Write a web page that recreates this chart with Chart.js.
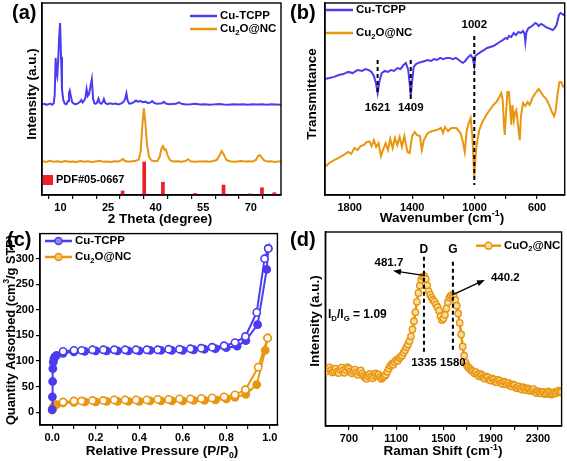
<!DOCTYPE html>
<html>
<head>
<meta charset="utf-8">
<script src="https://cdn.jsdelivr.net/npm/chart.js@4.4.1/dist/chart.umd.min.js"></script>
<style>
  html, body { margin: 0; padding: 0; background: #fff; }
  #wrap { position: relative; width: 567px; height: 461px; overflow: hidden; background: #fff; }
  canvas { position: absolute; }
</style>
</head>
<body>
<div id="wrap">
  <canvas id="xrd" width="283" height="230" style="left:0;top:0"></canvas>
  <canvas id="ftir" width="284" height="230" style="left:283px;top:0"></canvas>
  <canvas id="bet" width="283" height="236" style="left:0;top:225px"></canvas>
  <canvas id="raman" width="284" height="236" style="left:283px;top:225px"></canvas>
</div>
<script>
// Painel de 4 gráficos: XRD, FTIR, isoterma N2 e Raman.

const BLUE = '#4b3cf2';
const ORANGE = '#e9960f';
const RED = '#f01e28';
const INK = '#000';
const FONT = "'Liberation Sans', Arial, sans-serif";

// (a) XRD
const xrdTcppX = [4.3, 5, 5.6, 6.2, 6.8, 7.4, 7.9, 8.2, 8.5, 8.75, 9.0, 9.3, 9.6, 9.9, 10.2, 10.5, 10.9, 11.4, 11.9, 12.4,
  12.7, 12.95, 13.3, 13.7, 14.3, 15, 15.7, 16.2, 16.6, 17.0, 17.5, 17.9, 18.25, 18.6, 19.0, 19.4, 19.9, 20.3, 20.7, 21.1,
  21.5, 22.0, 22.4, 22.9, 23.3, 23.7, 24.1, 24.8, 25.6, 26.5, 27.4, 28.3, 29.2, 29.9, 30.4, 30.8, 31.2, 31.7, 32.5, 33.3,
  33.8, 34.4, 35.2, 36.0, 36.8, 37.6, 38.4, 38.9, 39.5, 40.3, 41.2, 42.0, 42.6, 43.2, 44.2, 45.3, 46.4, 47.3, 48.2, 49.5,
  51, 52.5, 54, 55.5, 57, 58.5, 60, 61.5, 63, 64.5, 66, 67.5, 69, 70.5, 72, 73.5, 75, 76.5, 78, 79.5];
const xrdTcppY = [47.2, 47.5, 46.9, 47.3, 47.6, 47.0, 47.8, 52, 71.4, 64, 62, 70, 82, 89.6, 72, 55, 49.5, 47.6, 47.3, 49,
  53, 54.3, 51.5, 48.3, 47.5, 47.3, 47.9, 48.6, 49.5, 48.2, 49.2, 51, 55.2, 51.5, 52.5, 56, 60.4, 50, 47.8, 47.5,
  48, 50.2, 48, 47.5, 48.3, 50, 48, 47.3, 47.8, 47.4, 47.6, 47.2, 47.7, 48.5, 50, 53, 49, 47.6, 47.8, 48.5,
  49.2, 48.6, 48.9, 48.3, 48.6, 47.8, 48.2, 48.9, 48, 47.5, 47.6, 47.8, 48.5, 47.6, 47.3, 47.4, 47.5, 48.2, 47.5, 47.2,
  47.3, 47.5, 47.1, 47.3, 47.0, 47.2, 47.4, 47.1, 47.0, 47.3, 47.1, 47.2, 47.0, 47.3, 47.1, 47.2, 47.0, 47.2, 47.1, 47.0];
const xrdCuoX = [4.3, 5.5, 6.7, 7.9, 9.1, 10.3, 11.5, 12.7, 13.9, 15.1, 16.3, 17.5, 18.7, 19.9, 21.1, 22.3, 23.5, 24.7, 25.9, 27.1,
  28.3, 29.2, 29.7, 30.3, 31.5, 32.7, 33.8, 34.7, 35.3, 35.8, 36.3, 36.8, 37.3, 37.9, 38.7, 39.7, 40.6, 41.3, 41.8, 42.3,
  42.8, 43.2, 43.8, 44.6, 45.8, 47.0, 48.2, 49.4, 50.2, 51.0, 52.2, 53.4, 54.6, 55.8, 57.0, 58.2, 59.3, 60.1, 60.8, 61.5,
  62.3, 63.3, 64.5, 65.7, 66.9, 68.1, 69.3, 70.5, 71.6, 72.3, 72.8, 73.4, 74.2, 75.2, 76.4, 77.6, 78.6, 79.5];
const xrdCuoY = [17.6, 17.2, 17.8, 17.3, 17.6, 17.2, 17.7, 17.3, 17.5, 17.2, 17.7, 17.3, 17.6, 17.2, 17.5, 17.8, 17.3, 17.5, 17.2, 17.6,
  17.4, 18.2, 18.8, 17.7, 17.3, 17.6, 17.8, 18.5, 23, 36, 45.2, 37, 26, 20, 18, 17.6, 17.8, 20, 24, 25.5,
  23.5, 23.8, 20.5, 18, 17.5, 17.6, 17.3, 17.7, 18.6, 17.6, 17.3, 17.5, 17.4, 17.6, 17.3, 17.7, 18.3, 20.5, 22.9, 21,
  18.2, 17.6, 17.3, 17.5, 17.7, 17.4, 17.6, 17.4, 18.3, 20.3, 20.8, 19.6, 18, 17.4, 17.6, 17.2, 17.5, 17.4];
const pdfX = [29.6, 36.4, 42.3, 52.4, 61.4, 69.6, 73.5, 77.4];
const pdfY = [2.1, 17.2, 6.6, 0.8, 5.2, 0.6, 3.8, 1.2];
const xrdTicks = [10, 25, 40, 55, 70];
const xrdMinor = [17.5, 32.5, 47.5, 62.5, 77.5];

// (b) FTIR
const ftirTcppX = [1958, 1930, 1900, 1870, 1840, 1810, 1780, 1750, 1720, 1700, 1680, 1660, 1645, 1632, 1621, 1610, 1595, 1575, 1555, 1535,
  1515, 1495, 1475, 1455, 1440, 1425, 1415, 1409, 1402, 1390, 1375, 1360, 1340, 1320, 1300, 1280, 1260, 1240, 1220, 1200,
  1180, 1160, 1140, 1120, 1100, 1085, 1074, 1060, 1040, 1025, 1012, 1002, 995, 980, 960, 940, 920, 900, 880, 860,
  840, 820, 800, 790, 780, 765, 750, 735, 720, 705, 690, 680, 675, 668, 655, 640, 625, 610, 600, 590,
  575, 560, 545, 530, 515, 500, 490, 475, 460, 450, 440, 430, 423];
const ftirTcppY = [60.4, 60.9, 61.5, 62.5, 63, 64.1, 63.5, 65.1, 64.6, 65.6, 65.1, 64.1, 62, 58.3, 53.1, 58.9, 63.5, 64.6, 64.1, 65.1,
  64.6, 66.1, 65.6, 67.7, 68.8, 65.1, 57.3, 51.6, 57.8, 66.7, 68.2, 68.8, 69.3, 69.8, 70.3, 69.8, 70.8, 70.3, 71.4, 70.8,
  71.4, 71.4, 70.8, 71.4, 70.3, 69.3, 68.8, 69.8, 71.9, 72.9, 71.4, 67.2, 72.4, 73.4, 74.5, 75.5, 76.6, 77.1, 77.6, 78.6,
  79.7, 80.7, 81.8, 81.3, 82.8, 82.3, 84.4, 83.3, 84.9, 84.4, 85.4, 83.9, 79.7, 84.9, 87, 87.5, 88.5, 89.6, 89.1, 88,
  89.1, 88.5, 87.5, 87, 86.5, 85.9, 86.5, 88.5, 93.8, 94.8, 94.3, 93.8, 94.3];
const ftirCuoX = [1958, 1930, 1900, 1870, 1840, 1810, 1790, 1770, 1750, 1730, 1710, 1690, 1672, 1660, 1645, 1630, 1615, 1600, 1587, 1570,
  1555, 1540, 1525, 1510, 1495, 1480, 1465, 1450, 1430, 1416, 1400, 1384, 1370, 1350, 1338, 1325, 1300, 1270, 1240, 1215,
  1202, 1190, 1170, 1150, 1117, 1090, 1075, 1063, 1050, 1035, 1025, 1015, 1002, 995, 989, 970, 950, 925, 903, 880,
  860, 845, 829, 820, 812, 807, 800, 790, 780, 772, 765, 758, 748, 740, 733, 722, 711, 703, 690, 675,
  660, 647, 630, 610, 590, 575, 560, 541, 520, 505, 490, 480, 470, 456, 445, 435, 423];
const ftirCuoY = [14.6, 16.7, 18.2, 19.3, 20.8, 22.4, 21.4, 24.5, 23.4, 25.5, 26, 27.6, 27.8, 25.5, 28.6, 25, 27, 20.3, 23.4, 27,
  23.4, 29.2, 24.5, 29.7, 26, 30.2, 25, 30.7, 22.4, 21.9, 30.7, 32.8, 31.3, 30.7, 23.4, 28.6, 32.3, 33.3, 33.9, 34.9,
  32.3, 35.4, 33.3, 34.9, 34.9, 32.3, 27.6, 22.4, 33.9, 38, 40.1, 31.3, 9.4, 18.2, 25, 33.9, 38, 41.7, 44.3, 46.9,
  48.4, 50.5, 53.1, 49.5, 36.5, 31.3, 41.1, 53.6, 53.6, 44.3, 36.5, 46.9, 39, 43.2, 44.3, 36.5, 28.6, 41.1, 47.9, 46.4,
  48.4, 46.9, 50.5, 53.1, 55.2, 53.6, 51.6, 50, 46.4, 43.2, 41.1, 44.3, 52.1, 58.9, 58.9, 56.8, 55.7];
const ftirTicks = [1800, 1400, 1000, 600];
const ftirMinor = [1600, 1200, 800];

// (c) N2 isotherm
const tcppAdsP = [0.0, 0.001, 0.002, 0.003, 0.005, 0.008, 0.012, 0.02, 0.05, 0.1, 0.15, 0.2, 0.25, 0.3, 0.35, 0.4, 0.45, 0.5,
  0.55, 0.6, 0.65, 0.7, 0.75, 0.8, 0.85, 0.89, 0.944, 0.986, 0.993];
const tcppAdsQ = [5, 30, 60, 85, 98, 104, 108, 111, 115, 118, 119, 120, 120, 120, 120, 120, 121, 121,
  121, 121, 122, 123, 124, 126, 129, 140, 171, 279, 320];
const tcppDesP = [0.993, 0.976, 0.94, 0.888, 0.84, 0.79, 0.735, 0.685, 0.635, 0.585, 0.535, 0.485, 0.435, 0.385, 0.335,
  0.285, 0.235, 0.185, 0.135, 0.1, 0.05];
const tcppDesQ = [320, 300, 195, 148, 136, 130, 127, 125, 124, 123, 123, 122, 122, 122, 122, 122, 122, 122, 121, 121, 119];
const cuoAdsP = [0.0, 0.002, 0.005, 0.01, 0.02, 0.05, 0.1, 0.15, 0.2, 0.25, 0.3, 0.35, 0.4, 0.45, 0.5, 0.55, 0.6, 0.65,
  0.7, 0.75, 0.8, 0.84, 0.89, 0.94, 0.979, 0.99];
const cuoAdsQ = [4, 7, 10, 13, 15, 18, 19, 20, 20, 21, 21, 21, 21, 22, 22, 22, 22, 23, 23, 24, 26, 29, 35, 54, 121, 145];
const cuoDesP = [0.99, 0.947, 0.888, 0.84, 0.79, 0.735, 0.685, 0.635, 0.585, 0.535, 0.485, 0.435, 0.385, 0.335, 0.285,
  0.235, 0.185, 0.135, 0.1, 0.05];
const cuoDesQ = [145, 88, 44, 34, 30, 28, 27, 26, 26, 25, 25, 24, 24, 24, 24, 23, 23, 22, 22, 20];
const betTicks = [0, 0.2, 0.4, 0.6, 0.8, 1.0];
const betMinor = [0.1, 0.3, 0.5, 0.7, 0.9];
const betYTicks = [0, 50, 100, 150, 200, 250, 300];

// (d) Raman
const ramanX = [500, 512.5, 525, 537.5, 550, 562.5, 575, 587.5, 600, 612.5, 625, 637.5, 650, 662.5, 675, 687.5,
  700, 712.5, 725, 737.5, 750, 762.5, 775, 787.5, 800, 812.5, 825, 837.5, 850, 862.5, 875, 887.5,
  900, 912.5, 925, 937.5, 950, 962.5, 975, 987.5, 1000, 1012.5, 1025, 1037.5, 1050, 1062.5, 1075, 1087.5,
  1100, 1112.5, 1125, 1137.5, 1150, 1162.5, 1175, 1187.5, 1200, 1212.5, 1225, 1237.5, 1250, 1262.5, 1275, 1287.5,
  1300, 1312.5, 1325, 1337.5, 1350, 1362.5, 1375, 1387.5, 1400, 1412.5, 1425, 1437.5, 1450, 1462.5, 1475, 1487.5,
  1500, 1512.5, 1525, 1537.5, 1550, 1562.5, 1575, 1587.5, 1600, 1612.5, 1625, 1637.5, 1650, 1662.5, 1675, 1687.5,
  1700, 1712.5, 1725, 1737.5, 1750, 1762.5, 1775, 1787.5, 1800, 1812.5, 1825, 1837.5, 1850, 1862.5, 1875, 1887.5,
  1900, 1912.5, 1925, 1937.5, 1950, 1962.5, 1975, 1987.5, 2000, 2012.5, 2025, 2037.5, 2050, 2062.5, 2075, 2087.5,
  2100, 2112.5, 2125, 2137.5, 2150, 2162.5, 2175, 2187.5, 2200, 2212.5, 2225, 2237.5, 2250, 2262.5, 2275, 2287.5,
  2300, 2312.5, 2325, 2337.5, 2350, 2362.5, 2375, 2387.5, 2400, 2412.5, 2425, 2437.5, 2450, 2462.5, 2475, 2487.5, 2500];
const ramanY = [29.0, 28.2, 29.5, 30.2, 28.8, 27.6, 28.4, 29.6, 28.0, 27.3, 29.0, 30.1, 28.6, 27.4, 28.9, 30.3,
  29.5, 28.1, 27.2, 28.4, 29.1, 27.6, 26.4, 27.8, 28.6, 27.0, 25.8, 24.9, 24.4, 25.6, 26.8, 25.4,
  24.6, 25.9, 27.1, 26.0, 26.6, 25.2, 24.3, 25.1, 25.6, 26.4, 27.9, 29.6, 31.0, 32.0, 31.6, 33.0,
  34.0, 33.6, 35.0, 35.6, 36.4, 37.8, 39.0, 40.6, 42.0, 43.8, 46.2, 49.8, 54.0, 58.6, 64.0, 68.6,
  72.4, 75.4, 77.0, 77.3, 75.8, 72.4, 69.4, 67.6, 66.2, 65.0, 64.0, 62.6, 61.2, 59.4, 56.6, 54.6,
  55.4, 57.4, 60.6, 63.8, 66.2, 67.2, 67.6, 67.0, 65.0, 62.0, 58.0, 53.2, 47.2, 41.0, 36.2, 32.6,
  31.0, 30.2, 29.4, 28.6, 28.2, 27.2, 27.8, 26.6, 25.6, 26.8, 26.2, 25.0, 24.4, 25.6, 25.0, 23.8,
  23.4, 24.6, 24.0, 22.8, 22.6, 23.8, 23.4, 22.2, 21.6, 22.8, 22.4, 21.4, 22.2, 21.0, 20.4, 21.4,
  21.0, 19.8, 19.4, 20.4, 19.4, 18.8, 20.0, 19.2, 18.4, 19.4, 19.0, 18.0, 18.6, 19.0, 17.6, 17.0,
  18.0, 17.4, 16.8, 17.6, 17.4, 16.4, 16.9, 17.8, 17.2, 16.2, 16.6, 17.4, 16.8, 17.6, 18.2, 17.4, 17.7];
const ramanTicks = [700, 1100, 1500, 1900, 2300];
const ramanMinor = [900, 1300, 1700, 2100];

const pts = (xs, ys) => xs.map((x, i) => ({ x, y: ys[i] }));

function richWidth(ctx, parts, size) {
  let w = 0;
  parts.forEach((p) => {
    const [t, mode] = typeof p === 'string' ? [p, ''] : p;
    ctx.font = `bold ${mode ? size * 0.65 : size}px ${FONT}`;
    w += ctx.measureText(t).width;
  });
  return w;
}

function drawRich(ctx, parts, x, y, size, align = 'left', angle = 0) {
  ctx.save();
  ctx.translate(x, y);
  ctx.rotate(angle);
  ctx.fillStyle = INK;
  ctx.textBaseline = 'middle';
  ctx.textAlign = 'left';
  const w = richWidth(ctx, parts, size);
  let cx = align === 'center' ? -w / 2 : align === 'right' ? -w : 0;
  parts.forEach((p) => {
    const [t, mode] = typeof p === 'string' ? [p, ''] : p;
    ctx.font = `bold ${mode ? size * 0.65 : size}px ${FONT}`;
    const dy = mode === 'sub' ? size * 0.3 : mode === 'sup' ? -size * 0.32 : 0;
    ctx.fillText(t, cx, dy);
    cx += ctx.measureText(t).width;
  });
  ctx.restore();
}

function dashed(ctx, x, y1, y2) {
  ctx.save();
  ctx.strokeStyle = INK;
  ctx.lineWidth = 2;
  ctx.setLineDash([4, 3]);
  ctx.beginPath();
  ctx.moveTo(x, y1);
  ctx.lineTo(x, y2);
  ctx.stroke();
  ctx.restore();
}

function arrow(ctx, x1, y1, x2, y2) {
  const ang = Math.atan2(y2 - y1, x2 - x1);
  ctx.save();
  ctx.strokeStyle = INK;
  ctx.fillStyle = INK;
  ctx.lineWidth = 1.3;
  ctx.beginPath();
  ctx.moveTo(x1, y1);
  ctx.lineTo(x2 - 6 * Math.cos(ang), y2 - 6 * Math.sin(ang));
  ctx.stroke();
  ctx.beginPath();
  ctx.moveTo(x2, y2);
  ctx.lineTo(x2 - 8 * Math.cos(ang) + 3 * Math.sin(ang), y2 - 8 * Math.sin(ang) - 3 * Math.cos(ang));
  ctx.lineTo(x2 - 8 * Math.cos(ang) - 3 * Math.sin(ang), y2 - 8 * Math.sin(ang) + 3 * Math.cos(ang));
  ctx.closePath();
  ctx.fill();
  ctx.restore();
}

function legendLine(ctx, x1, x2, y, color, marker, fill) {
  ctx.save();
  ctx.strokeStyle = color;
  ctx.lineWidth = 2.5;
  ctx.beginPath();
  ctx.moveTo(x1, y);
  ctx.lineTo(x2, y);
  ctx.stroke();
  if (marker) {
    ctx.lineWidth = 1.5;
    ctx.fillStyle = fill;
    ctx.beginPath();
    ctx.arc((x1 + x2) / 2, y, 3.5, 0, Math.PI * 2);
    ctx.fill();
    ctx.stroke();
  }
  ctx.restore();
}

function decor(draw) {
  return {
    id: 'decor',
    afterDraw(chart) {
      const { ctx, chartArea: a, scales } = chart;
      ctx.save();
      ctx.strokeStyle = INK;
      ctx.lineWidth = 1.4;
      ctx.strokeRect(a.left, a.top, a.right - a.left, a.bottom - a.top);
      draw(ctx, scales.x, scales.y);
      ctx.restore();
    },
  };
}

const tickFont = { family: FONT, size: 11, weight: 'bold' };

function xScale(min, max, major, minor, height, fmt, reverse = false) {
  return {
    type: 'linear', min, max, reverse, offset: false,
    afterBuildTicks: (s) => {
      s.ticks = major.concat(minor).filter((v) => v >= min && v <= max).sort((p, q) => p - q).map((v) => ({ value: v }));
    },
    afterFit: (s) => { s.height = height; },
    grid: { drawOnChartArea: false, drawTicks: true, tickLength: 4, color: INK, lineWidth: 1.2 },
    border: { color: INK, width: 1.4 },
    ticks: { color: INK, font: tickFont, padding: 2, maxRotation: 0, autoSkip: false,
      callback: (v) => (major.includes(v) ? fmt(v) : '') },
  };
}

function yHidden(min, max, width) {
  return {
    type: 'linear', min, max,
    afterFit: (s) => { s.width = width; },
    ticks: { display: false },
    grid: { display: false },
    border: { color: INK, width: 1.4 },
  };
}

function baseOptions(padding, x, y) {
  return {
    responsive: false,
    animation: false,
    events: [],
    layout: { padding },
    plugins: { legend: { display: false }, tooltip: { enabled: false } },
    scales: { x, y },
  };
}

// (a)
new Chart(document.getElementById('xrd'), {
  type: 'line',
  data: {
    datasets: [
      { data: pts(xrdTcppX, xrdTcppY), borderColor: BLUE, borderWidth: 2, pointRadius: 0, tension: 0 },
      { data: pts(xrdCuoX, xrdCuoY), borderColor: ORANGE, borderWidth: 2, pointRadius: 0, tension: 0 },
      { type: 'bar', data: pts(pdfX, pdfY), backgroundColor: RED, barThickness: 3 },
    ],
  },
  options: baseOptions({ top: 3, right: 2, left: 0, bottom: 0 },
    xScale(4.2, 79.5, xrdTicks, xrdMinor, 35, (v) => String(v)), yHidden(0, 100, 42)),
  plugins: [decor((ctx) => {
    drawRich(ctx, ['(a)'], 12, 13, 20);
    drawRich(ctx, ['Intensity (a.u.)'], 32, 94, 13.5, 'center', -Math.PI / 2);
    drawRich(ctx, ['2 Theta (degree)'], 160, 219, 13.5, 'center');
    legendLine(ctx, 190, 217, 16, BLUE);
    legendLine(ctx, 190, 217, 29, ORANGE);
    drawRich(ctx, ['Cu-TCPP'], 220, 16, 11.5);
    drawRich(ctx, ['Cu', ['2', 'sub'], 'O@NC'], 220, 29, 11.5);
    ctx.fillStyle = RED;
    ctx.fillRect(43, 175, 10, 10);
    drawRich(ctx, ['PDF#05-0667'], 56, 180, 11);
  })],
});

// (b)
new Chart(document.getElementById('ftir'), {
  type: 'line',
  data: {
    datasets: [
      { data: pts(ftirTcppX, ftirTcppY), borderColor: BLUE, borderWidth: 2, pointRadius: 0, tension: 0 },
      { data: pts(ftirCuoX, ftirCuoY), borderColor: ORANGE, borderWidth: 2, pointRadius: 0, tension: 0 },
    ],
  },
  options: baseOptions({ top: 3, right: 2.3, left: 0, bottom: 0 },
    xScale(423, 1958, ftirTicks, ftirMinor, 35, (v) => String(v), true), yHidden(0, 100, 42)),
  plugins: [decor((ctx, sx, sy) => {
    drawRich(ctx, ['(b)'], 7, 13, 20);
    drawRich(ctx, ['Transmittance'], 29, 94, 13.5, 'center', -Math.PI / 2);
    drawRich(ctx, ['Wavenumber (cm', ['-1', 'sup'], ')'], 159, 218, 13.5, 'center');
    legendLine(ctx, 43, 70, 10, BLUE);
    legendLine(ctx, 43, 70, 33, ORANGE);
    drawRich(ctx, ['Cu-TCPP'], 73, 10, 11.5);
    drawRich(ctx, ['Cu', ['2', 'sub'], 'O@NC'], 73, 33, 11.5);
    dashed(ctx, sx.getPixelForValue(1621), sy.getPixelForValue(70.3), sy.getPixelForValue(53.6));
    dashed(ctx, sx.getPixelForValue(1409), sy.getPixelForValue(70.3), sy.getPixelForValue(49.5));
    dashed(ctx, sx.getPixelForValue(1002), sy.getPixelForValue(82.8), sy.getPixelForValue(5.2));
    drawRich(ctx, ['1621'], sx.getPixelForValue(1621), sy.getPixelForValue(45.3), 11.5, 'center');
    drawRich(ctx, ['1409'], sx.getPixelForValue(1409), sy.getPixelForValue(45.3), 11.5, 'center');
    drawRich(ctx, ['1002'], sx.getPixelForValue(1002), sy.getPixelForValue(88.5), 11.5, 'center');
  })],
});

// (c)
function isotherm(adsP, adsQ, desP, desQ, color) {
  return {
    data: pts(adsP, adsQ).concat(pts(desP, desQ)),
    borderColor: color,
    borderWidth: 2,
    tension: 0,
    pointRadius: 3.6,
    pointBorderWidth: 1.6,
    pointBorderColor: color,
    pointBackgroundColor: adsP.map(() => color).concat(desP.map(() => '#fff')),
  };
}

new Chart(document.getElementById('bet'), {
  type: 'line',
  data: {
    datasets: [
      isotherm(tcppAdsP, tcppAdsQ, tcppDesP, tcppDesQ, BLUE),
      isotherm(cuoAdsP, cuoAdsQ, cuoDesP, cuoDesQ, ORANGE),
    ],
  },
  options: baseOptions({ top: 7, right: 1.3, left: 0, bottom: 0 },
    xScale(-0.056, 1.035, betTicks, betMinor, 36, (v) => v.toFixed(1)),
    {
      type: 'linear', min: -25, max: 349,
      afterBuildTicks: (s) => { s.ticks = betYTicks.map((v) => ({ value: v })); },
      afterFit: (s) => { s.width = 40; },
      grid: { drawOnChartArea: false, drawTicks: true, tickLength: 4, color: INK, lineWidth: 1.2 },
      border: { color: INK, width: 1.4 },
      ticks: { color: INK, font: tickFont, padding: 2 },
    }),
  plugins: [decor((ctx) => {
    drawRich(ctx, ['(c)'], 7, 15, 20);
    drawRich(ctx, ['Quantity Adsorbed (cm', ['3', 'sup'], '/g STP)'], 11, 105, 12.8, 'center', -Math.PI / 2);
    drawRich(ctx, ['Relative Pressure (P/P', ['0', 'sub'], ')'], 162, 226.5, 13.5, 'center');
    legendLine(ctx, 45, 72, 16, BLUE, true, '#8f86f7');
    legendLine(ctx, 45, 72, 32, ORANGE, true, '#f3c56f');
    drawRich(ctx, ['Cu-TCPP'], 75, 16, 11.5);
    drawRich(ctx, ['Cu', ['2', 'sub'], 'O@NC'], 75, 32, 11.5);
  })],
});

// (d)
new Chart(document.getElementById('raman'), {
  type: 'line',
  data: {
    datasets: [{
      data: pts(ramanX, ramanY),
      borderColor: ORANGE,
      borderWidth: 2.5,
      tension: 0,
      pointRadius: 3.2,
      pointBorderWidth: 1.4,
      pointBorderColor: ORANGE,
      pointBackgroundColor: '#f8dca6',
    }],
  },
  options: baseOptions({ top: 7, right: 2.3, left: 0, bottom: 0 },
    xScale(500, 2500, ramanTicks, ramanMinor, 35, (v) => String(v)), yHidden(0, 100, 42.3)),
  plugins: [decor((ctx, sx, sy) => {
    drawRich(ctx, ['(d)'], 7, 15, 20);
    drawRich(ctx, ['Intensity (a.u.)'], 32.5, 96, 13.5, 'center', -Math.PI / 2);
    drawRich(ctx, ['Raman Shift (cm', ['-1', 'sup'], ')'], 160, 226.5, 13.5, 'center');
    legendLine(ctx, 193, 218, 20.7, ORANGE, true, '#f8dca6');
    drawRich(ctx, ['CuO', ['2', 'sub'], '@NC'], 221, 20.7, 11.5);
    const dx = sx.getPixelForValue(1335);
    const gx = sx.getPixelForValue(1580);
    dashed(ctx, dx, 31.7, 128.3);
    dashed(ctx, gx, 36.7, 125);
    drawRich(ctx, ['D'], dx, 24.5, 12, 'center');
    drawRich(ctx, ['G'], gx, 24.5, 12, 'center');
    drawRich(ctx, ['1335'], dx, 138.3, 11.5, 'center');
    drawRich(ctx, ['1580'], gx, 138.3, 11.5, 'center');
    arrow(ctx, dx + 1, sy.getPixelForValue(77.5), dx - 31, sy.getPixelForValue(80));
    drawRich(ctx, ['481.7'], dx - 35, 38.3, 11.5, 'center');
    arrow(ctx, gx - 1, sy.getPixelForValue(67.5), gx + 32, sy.getPixelForValue(75.3));
    drawRich(ctx, ['440.2'], gx + 38, 53.3, 11.5);
    drawRich(ctx, ['I', ['D', 'sub'], '/I', ['G', 'sub'], ' = 1.09'], 45, 90, 12);
  })],
});
</script>
</body>
</html>
